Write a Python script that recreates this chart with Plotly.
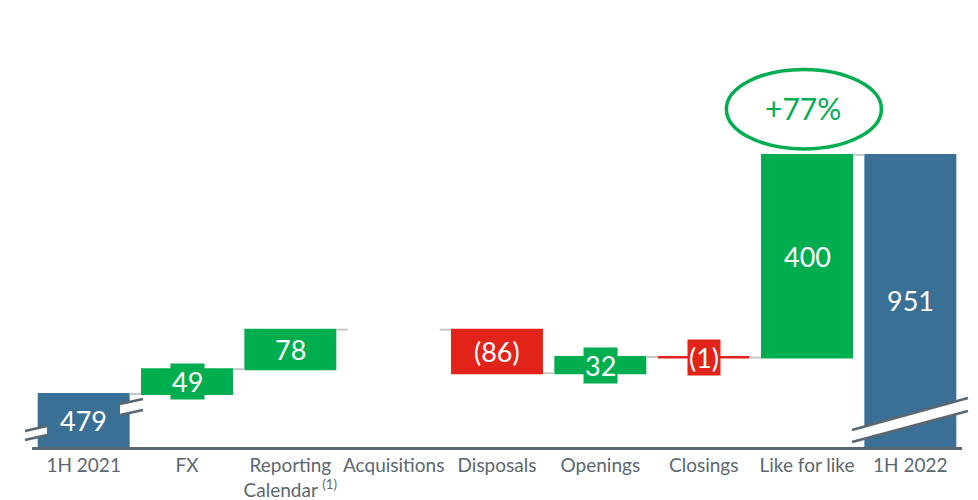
import plotly.graph_objects as go

# ---- data ----
categories = ["1H 2021", "FX", "Reporting<br>Calendar <sup>(1)</sup>", "Acquisitions",
              "Disposals", "Openings", "Closings", "Like for like", "1H 2022"]
values = [479, 49, 78, 0, -86, 32, -1, 400, 951]
measures = ["absolute", "relative", "relative", "relative", "relative",
            "relative", "relative", "relative", "total"]
growth_label = "+77%"

BLUE = "#3a7096"
GREEN = "#00ae4f"
RED = "#e2231a"
GRAY = "#5b6770"
FONT = "Lato"

W, H = 978, 500
ML, MR, MT, MB = 32, 16, 0, 53
Y0, Y1 = 374.3, 1257

fig = go.Figure(go.Waterfall(
    x=categories, y=values, measure=measures,
    textinfo="none",
    increasing=dict(marker=dict(color=GREEN, line=dict(width=0))),
    decreasing=dict(marker=dict(color=RED, line=dict(width=0))),
    totals=dict(marker=dict(color=BLUE, line=dict(width=0))),
    connector=dict(mode="between", line=dict(color="#c8c8c8", width=2)),
    hoverinfo="skip",
))

# value labels (computed from data)
annotations = []
cum = 0
for cat, v, m in zip(categories, values, measures):
    if m == "absolute":
        lo, hi, color = Y0, v, BLUE
        cum = v
    elif m == "total":
        lo, hi, color = Y0, cum, BLUE
    else:
        if v == 0:
            continue
        lo, hi = cum, cum + v
        color = GREEN if v > 0 else RED
        cum += v
    label = f"({abs(v)})" if v < 0 else f"{v if m != 'total' else cum}"
    annotations.append(dict(x=cat, y=(lo + hi) / 2, text=label, showarrow=False,
                            font=dict(family=FONT, size=27, color="white"),
                            bgcolor=color, borderpad=1, xref="x", yref="y"))

# growth ellipse + label over the like-for-like bar
lfl_idx = categories.index("Like for like")
annotations.append(dict(x=lfl_idx - 0.04, y=1043, text=growth_label, showarrow=False,
                        font=dict(family=FONT, size=30, color=GREEN), xref="x", yref="y"))

shapes = [dict(type="circle", xref="x", yref="y", x0=lfl_idx - 0.78, x1=lfl_idx + 0.72,
               y0=963, y1=1120, line=dict(color=GREEN, width=3.5))]

# axis-break decorations (pixel -> paper)
PW = W - ML - MR
PH = H - MT - MB
def px(x):
    return (x - ML) / PW
def py(y):
    return (H - MB - y) / PH

def brk(x0, y0a, y0b, x1, y1a, y1b):
    out = [dict(type="path", xref="paper", yref="paper", layer="above",
                path=f"M {px(x0)},{py(y0a)} L {px(x1)},{py(y1a)} L {px(x1)},{py(y1b)} L {px(x0)},{py(y0b)} Z",
                fillcolor="white", line=dict(width=0))]
    for a, b in ((y0a, y1a), (y0b, y1b)):
        out.append(dict(type="line", xref="paper", yref="paper", layer="above",
                        x0=px(x0), y0=py(a), x1=px(x1), y1=py(b),
                        line=dict(color=GRAY, width=2.5)))
    return out

shapes += brk(25, 431, 440, 47, 426, 435)
shapes += brk(120, 404, 415, 143, 399, 410)
shapes += brk(852, 430, 442, 968, 398, 411)

fig.update_layout(
    width=W, height=H,
    margin=dict(l=ML, r=MR, t=MT, b=MB, autoexpand=False),
    paper_bgcolor="white", plot_bgcolor="white",
    waterfallgap=0.11,
    showlegend=False,
    annotations=annotations,
    shapes=shapes,
    xaxis=dict(showline=True, linecolor=GRAY, linewidth=2.5, ticks="",
               automargin=False,
               tickfont=dict(family=FONT, size=19, color=GRAY),
               showgrid=False, zeroline=False, fixedrange=True),
    yaxis=dict(visible=False, range=[Y0, Y1], fixedrange=True, automargin=False),
)

fig.write_html("out.html", config={"displayModeBar": False, "staticPlot": True},
               post_script="document.body.style.margin='0';document.body.style.overflow='hidden';")
